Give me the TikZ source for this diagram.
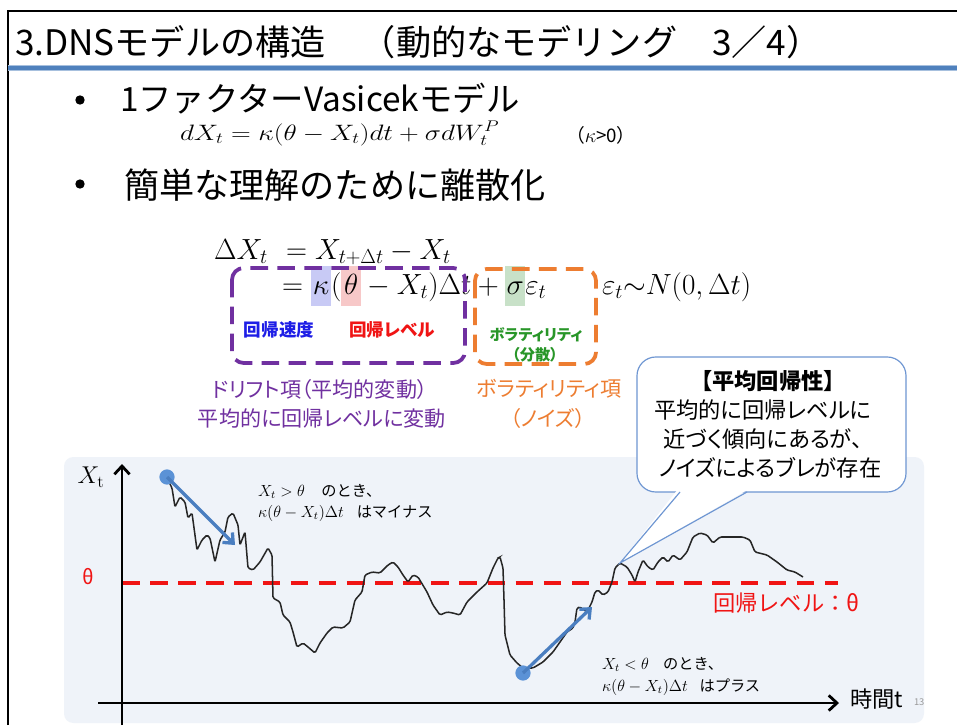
\documentclass[tikz,border=0pt]{standalone}
\usepackage[no-math]{fontspec}
\setmainfont[RawFeature=+palt]{Noto Sans CJK JP}
\newfontfamily\jpf{Noto Sans CJK JP}
\usepackage{graphicx}
\usetikzlibrary{arrows.meta}
\definecolor{purp}{RGB}{112,48,160}
\definecolor{orng}{RGB}{237,125,49}
\definecolor{bgc}{RGB}{239,243,249}
\definecolor{hlb}{RGB}{200,202,245}
\definecolor{hlr}{RGB}{247,200,200}
\definecolor{hlg}{RGB}{200,225,200}
\definecolor{tblue}{RGB}{30,30,230}
\definecolor{tred}{RGB}{240,20,20}
\definecolor{tgreen}{RGB}{40,150,40}
\definecolor{dotblue}{RGB}{91,146,214}
\definecolor{arrblue}{RGB}{74,126,192}
\definecolor{callb}{RGB}{110,150,210}
\definecolor{rulec}{RGB}{79,129,189}
\newcommand\jfs[1]{\fontsize{#1}{#1}\selectfont}
\newcommand\hlbox[2]{{\setlength\fboxsep{0pt}\colorbox{#1}{\rule[-10pt]{0pt}{34pt}\makebox[17pt]{$#2$}}}}
\newcommand\smath[1]{\scalebox{1.15}[1.15]{\jfs{12}$#1$}}
\begin{document}
\begin{tikzpicture}[x=0.03cm,y=-0.03cm,
  every node/.style={inner sep=0pt,outer sep=0pt},
  dashbox/.style={line width=3.2pt,dash pattern=on 15pt off 8pt,rounded corners=10pt},
  axisline/.style={line width=2.4pt,-{Straight Barb[length=7pt,width=13pt,line width=2.4pt]}},
  barrow/.style={arrblue,line width=2.8pt,-{Straight Barb[length=7pt,width=12pt,line width=2.8pt]}},
  curve/.style={line width=1.3pt,black!85,rounded corners=1.2pt},
  bluedot/.style={circle,fill=dotblue,minimum size=13pt},
  note/.style={anchor=base west,font=\jpf\jfs{13}}]
\useasboundingbox (0,0) rectangle (957,725);
\fill[white] (0,0) rectangle (957,725);
% frame
\draw[line width=2pt] (8,725) -- (8,11) -- (957,11);
\draw[rulec!50,line width=5pt] (8,68) -- (957,68);
\draw[rulec,line width=3pt] (8,68) -- (957,68);
% title
\node[anchor=west,font=\jpf\jfs{30}] (title) at (15,42) {3.DNSモデルの構造　（動的なモデリング　3／4）};
% bullets
\node[circle,fill=black,minimum size=8pt] (b1) at (80,100) {};
\node[circle,fill=black,minimum size=8pt] (b2) at (80,184) {};
\node[anchor=west,font=\jpf\jfs{28.5}] (l1) at (120,99) {1ファクターVasicekモデル};
\node[anchor=west,font=\jpf\jfs{30}] (l2) at (124,185) {簡単な理解のために離散化};
\node[anchor=base west] (f1) at (180,140) {\scalebox{1.35}[1.1]{\jfs{18}$dX_t=\kappa(\theta-X_t)dt+\sigma dW_t^P$}};
\node[anchor=base west,font=\jpf\jfs{16}] (f2) at (566,142) {（$\kappa$>0）};
% discretised equation
\node[anchor=base west] (e1) at (214,259) {\jfs{23}$\Delta X_t$};
\node[anchor=base west] (e2) at (286,259) {\jfs{23}$=X_{t+\Delta t}-X_t$};
\node[anchor=base west] (e3) at (282,294) {\jfs{23}$=\hlbox{hlb}{\kappa}(\hlbox{hlr}{\theta}-X_t)\Delta t+\hlbox{hlg}{\sigma}\varepsilon_t$};
\node[anchor=base west] (e4) at (602,294) {\jfs{23}$\varepsilon_t{\sim}N(0,\Delta t)$};
% dashed boxes
\draw[purp,dashbox] (232,268) rectangle (465,363);
\draw[orng,dashbox] (475,269) rectangle (596,364);
\node[tblue,font=\jfs{15}\bfseries] (lk) at (279,330) {回帰速度};
\node[tred,font=\jfs{15}\bfseries] (lt) at (392,330) {回帰レベル};
\node[tgreen,font=\jfs{13}\bfseries] (ls1) at (536,335) {ボラティリティ};
\node[tgreen,font=\jfs{13}\bfseries] (ls2) at (535,355) {（分散）};
\node[purp,font=\jfs{18}] (d1) at (320,389) {ドリフト項（平均的変動）};
\node[purp,font=\jfs{18}] (d2) at (322,418) {平均的に回帰レベルに変動};
\node[orng,font=\jfs{18}] (v1) at (549,389) {ボラティリティ項};
\node[orng,font=\jfs{18}] (v2) at (548,418) {（ノイズ）};
% chart background
\fill[bgc,rounded corners=8pt] (64,457) rectangle (924,723);
% red theta line
\coordinate (th0) at (122,583);
\coordinate (th1) at (838,583);
\draw[tred,line width=2.8pt,dash pattern=on 15pt off 9pt] (th0) -- (th1);
% axes
\coordinate (yb) at (122,725);
\coordinate (yt) at (122,464);
\coordinate (xl) at (98,703);
\coordinate (xr) at (839,703);
\draw[axisline] (yb) -- (yt);
\draw[axisline] (xl) -- (xr);
\node[font=\jfs{20}] (xt) at (91,477) {$X_{\mathrm t}$};
\node[tred,font=\jfs{17}] (thl) at (88,577) {θ};
\node[anchor=west,font=\jpf\jfs{19}] (time) at (850,699) {時間t};
\node[anchor=west,black!40,font=\jfs{8}] (pg) at (914,702) {13};
\node[anchor=west,tred,font=\jpf\jfs{19}] (rl) at (713,603) {回帰レベル：θ};
% path
\draw[curve] (167,478) -- (172,488) -- (175,507) -- (180,497) -- (185,502) -- (188,518) -- (192,513) -- (197,550) -- (202,540) -- (207,535) -- (210,538) -- (215,562) -- (220,540) -- (225,532) -- (228,517) -- (233,513) -- (238,525) -- (240,545) -- (245,532) -- (248,568) -- (253,570) -- (260,562) -- (268,548) -- (272,555) -- (273,598) -- (280,602) -- (283,615) -- (290,622) -- (293,632) -- (297,647) -- (303,643) -- (308,647) -- (315,653) -- (320,643) -- (327,633) -- (333,627) -- (343,628) -- (350,622) -- (355,600) -- (362,592) -- (365,575) -- (372,572) -- (380,573) -- (388,565) -- (393,562) -- (398,567) -- (403,575) -- (408,582) -- (413,575) -- (418,577) -- (427,592) -- (433,605) -- (440,615) -- (447,612) -- (453,613) -- (460,615) -- (467,602) -- (477,592) -- (487,583) -- (493,568) -- (498,558) -- (500,557) -- (503,568) -- (504,600) -- (505,635) -- (510,655) -- (517,663) -- (523,668) -- (533,668) -- (543,662) -- (553,652) -- (560,642) -- (567,632) -- (573,628) -- (575,622) -- (577,608) -- (580,607) -- (587,612) -- (592,602) -- (595,592) -- (598,590) -- (603,595) -- (608,592) -- (612,582) -- (615,568) -- (620,563) -- (627,567) -- (632,575) -- (635,582) -- (638,572) -- (643,560) -- (648,567) -- (653,570) -- (658,562) -- (663,557) -- (668,562) -- (673,555) -- (680,560) -- (687,552) -- (693,537) -- (700,533) -- (707,535) -- (713,543) -- (720,537) -- (730,537) -- (743,537) -- (750,540) -- (755,552) -- (767,555) -- (777,562) -- (787,570) -- (795,572) -- (803,577);
% blue dots and arrows
\node[bluedot] (p1) at (167,477) {};
\node[bluedot] (p2) at (523,673) {};
\coordinate (a1) at (235,545);
\coordinate (a2) at (592,607);
\draw[barrow] (p1.center) -- (a1);
\draw[barrow] (p2.center) -- (a2);
% annotations
\node[note] (n1a) at (258,496) {\smath{X_t>\theta}};
\node[note,xshift=14pt] (n1b) at (n1a.base east) {のとき、};
\node[note] (n2a) at (258,517) {\smath{\kappa(\theta-X_t)\Delta t}};
\node[note,xshift=11pt] (n2b) at (n2a.base east) {はマイナス};
\node[note] (n3a) at (602,669) {\smath{X_t<\theta}};
\node[note,xshift=12pt] (n3b) at (n3a.base east) {のとき、};
\node[note] (n4a) at (602,691) {\smath{\kappa(\theta-X_t)\Delta t}};
\node[note,xshift=10pt] (n4b) at (n4a.base east) {はプラス};
% callout
\filldraw[fill=white,draw=callb,line width=1pt,rounded corners=16pt] (637,357) rectangle (906,492);
\fill[white] (678,489) -- (620,563) -- (749,489) -- cycle;
\coordinate (tip) at (620,563);
\draw[callb,line width=1pt] (680,492) -- (tip) -- (747,492);
\node[font=\jfs{19}\bfseries] (c0) at (768,381) {【平均回帰性】};
\node[font=\jfs{19}] (c1) at (763,410) {平均的に回帰レベルに};
\node[font=\jfs{19}] (c2) at (763,439) {近づく傾向にあるが、};
\node[font=\jfs{19}] (c3) at (770,468) {ノイズによるブレが存在};
\end{tikzpicture}
\end{document}
